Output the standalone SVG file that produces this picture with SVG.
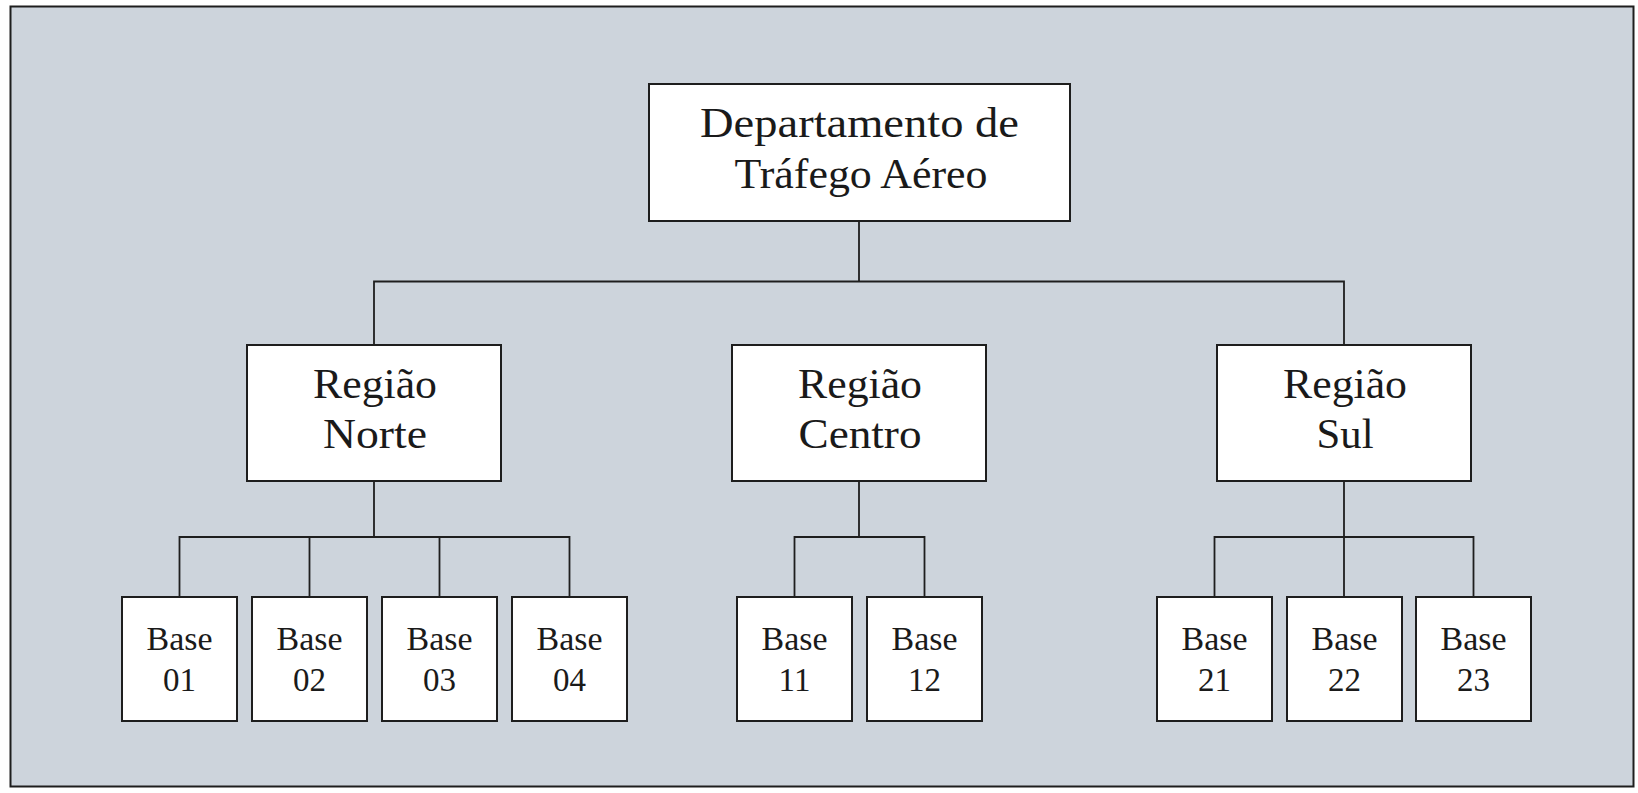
<svg xmlns="http://www.w3.org/2000/svg" width="1638" height="793" viewBox="0 0 1638 793">
<style>
.frame{fill:#cdd4dc;stroke:#1e1e1e;stroke-width:2}
.box{fill:#ffffff;stroke:#1e1e1e;stroke-width:2}
.conn{fill:none;stroke:#1e1e1e;stroke-width:1.8}
.big{font-family:"Liberation Serif","Times New Roman",serif;font-size:42px;fill:#1a1a1a;text-anchor:middle}
.small{font-family:"Liberation Serif","Times New Roman",serif;font-size:33px;fill:#1a1a1a;text-anchor:middle}
</style>
<rect x="0" y="0" width="1638" height="793" fill="#ffffff"/>
<rect class="frame" x="10.5" y="6.5" width="1623" height="780"/>
<g id="connectors">
<path class="conn" d="M859 221 V281.5 M374 345 V281.5 H1344 V345"/>
<path class="conn" d="M374 481 V537 M179.5 597 V537 H569.5 V597 M309.5 537 V597 M439.5 537 V597"/>
<path class="conn" d="M859 481 V537 M794.5 597 V537 H924.5 V597"/>
<path class="conn" d="M1344 481 V597 M1214.5 597 V537 H1473.5 V597"/>
</g>
<g id="dept">
<rect class="box" x="649" y="84" width="421" height="137"/>
<text class="big" x="859.5" y="137" textLength="319" lengthAdjust="spacingAndGlyphs">Departamento de</text>
<text class="big" x="861" y="188" textLength="253" lengthAdjust="spacingAndGlyphs">Tráfego Aéreo</text>
</g>
<g id="norte">
<rect class="box" x="247" y="345" width="254" height="136"/>
<text class="big" x="375" y="398" textLength="124" lengthAdjust="spacingAndGlyphs">Região</text>
<text class="big" x="375" y="448" textLength="104" lengthAdjust="spacingAndGlyphs">Norte</text>
</g>
<g id="centro">
<rect class="box" x="732" y="345" width="254" height="136"/>
<text class="big" x="860" y="398" textLength="124" lengthAdjust="spacingAndGlyphs">Região</text>
<text class="big" x="860" y="448" textLength="123" lengthAdjust="spacingAndGlyphs">Centro</text>
</g>
<g id="sul">
<rect class="box" x="1217" y="345" width="254" height="136"/>
<text class="big" x="1345" y="398" textLength="124" lengthAdjust="spacingAndGlyphs">Região</text>
<text class="big" x="1345" y="448" textLength="57" lengthAdjust="spacingAndGlyphs">Sul</text>
</g>
<g id="base01">
<rect class="box" x="122" y="597" width="115" height="124"/>
<text class="small" x="179.5" y="650" textLength="66" lengthAdjust="spacingAndGlyphs">Base</text>
<text class="small" x="179.5" y="691">01</text>
</g>
<g id="base02">
<rect class="box" x="252" y="597" width="115" height="124"/>
<text class="small" x="309.5" y="650" textLength="66" lengthAdjust="spacingAndGlyphs">Base</text>
<text class="small" x="309.5" y="691">02</text>
</g>
<g id="base03">
<rect class="box" x="382" y="597" width="115" height="124"/>
<text class="small" x="439.5" y="650" textLength="66" lengthAdjust="spacingAndGlyphs">Base</text>
<text class="small" x="439.5" y="691">03</text>
</g>
<g id="base04">
<rect class="box" x="512" y="597" width="115" height="124"/>
<text class="small" x="569.5" y="650" textLength="66" lengthAdjust="spacingAndGlyphs">Base</text>
<text class="small" x="569.5" y="691">04</text>
</g>
<g id="base11">
<rect class="box" x="737" y="597" width="115" height="124"/>
<text class="small" x="794.5" y="650" textLength="66" lengthAdjust="spacingAndGlyphs">Base</text>
<text class="small" x="794.5" y="691">11</text>
</g>
<g id="base12">
<rect class="box" x="867" y="597" width="115" height="124"/>
<text class="small" x="924.5" y="650" textLength="66" lengthAdjust="spacingAndGlyphs">Base</text>
<text class="small" x="924.5" y="691">12</text>
</g>
<g id="base21">
<rect class="box" x="1157" y="597" width="115" height="124"/>
<text class="small" x="1214.5" y="650" textLength="66" lengthAdjust="spacingAndGlyphs">Base</text>
<text class="small" x="1214.5" y="691">21</text>
</g>
<g id="base22">
<rect class="box" x="1287" y="597" width="115" height="124"/>
<text class="small" x="1344.5" y="650" textLength="66" lengthAdjust="spacingAndGlyphs">Base</text>
<text class="small" x="1344.5" y="691">22</text>
</g>
<g id="base23">
<rect class="box" x="1416" y="597" width="115" height="124"/>
<text class="small" x="1473.5" y="650" textLength="66" lengthAdjust="spacingAndGlyphs">Base</text>
<text class="small" x="1473.5" y="691">23</text>
</g>
</svg>
